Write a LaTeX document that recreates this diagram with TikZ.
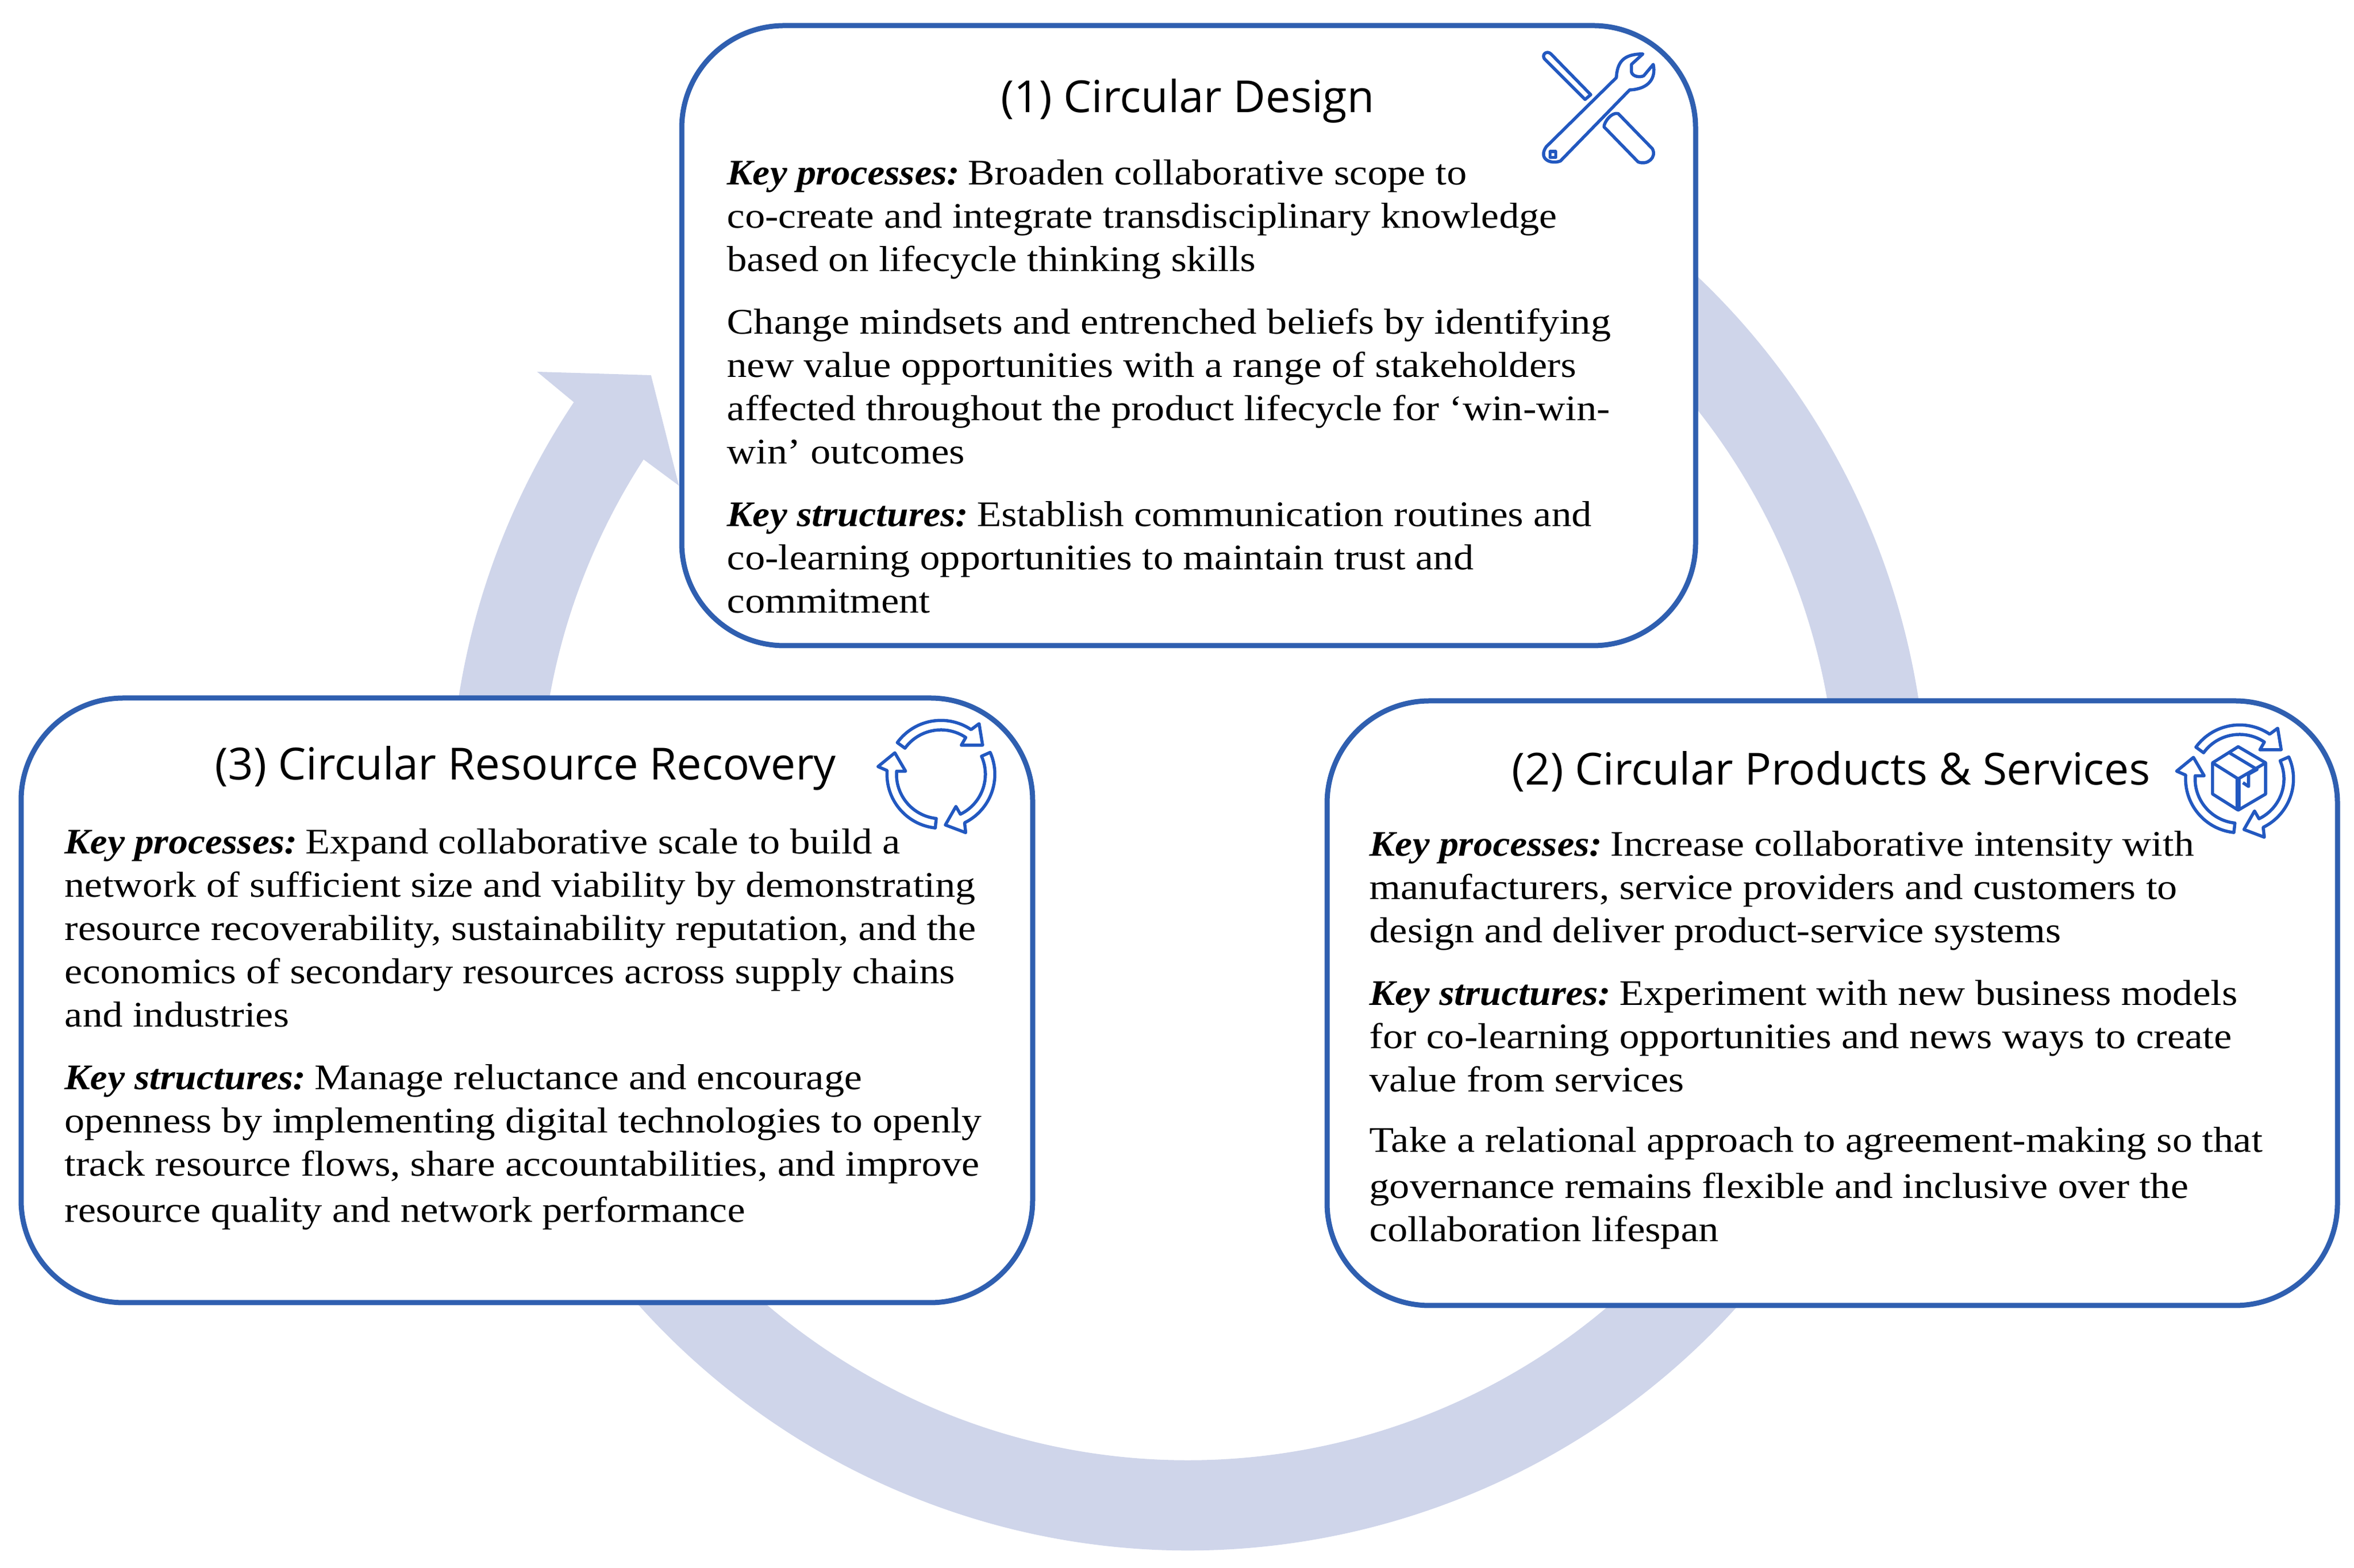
\documentclass[tikz,border=0pt]{standalone}
\usepackage{fontspec}
\setmainfont[FakeStretch=1.115]{Liberation Serif}
\newfontfamily\keyfont[FakeStretch=1.072]{Liberation Serif}
\newfontfamily\titlefont{Open Sans}
\definecolor{ringblue}{HTML}{CFD5EA}
\definecolor{edgeblue}{HTML}{2F5FB0}
\definecolor{iconblue}{HTML}{2258C0}
\tikzset{
	stagebox/.style={draw=edgeblue, line width=0.09cm, fill=white, rounded corners=1.8cm},
	stagetitle/.style={font=\titlefont\fontsize{22.1}{26}\selectfont},
	stagetext/.style={anchor=north west, inner sep=0pt, align=left, font=\fontsize{18}{21.63}\selectfont},
	iconline/.style={draw=iconblue, line width=0.055cm, line join=round}
}
\newcommand{\keyterm}[1]{{\keyfont\bfseries\itshape #1}\kern-0.09cm\relax}
\newcommand{\cyclearrows}[1]{
	\foreach \turn in {0,-120,-240} {
		\draw[iconline, shift={(#1)}, rotate=\turn] (144:0.947) arc[start angle=144, end angle=56, radius=0.947] -- (53:1.113) -- (35:0.893) -- (55:0.623) -- (56:0.78) arc[start angle=56, end angle=144, radius=0.78] -- cycle;
	}
}
\begin{document}
\begin{tikzpicture}
	\useasboundingbox (0,0) rectangle (41.33,27.54);

	\coordinate (hub) at (20.865,13.28);
	\fill[ringblue] (hub) ++(65:12.97) arc[start angle=65, end angle=-213.7, radius=12.97] -- (9.43,21.01) -- (11.43,20.95) -- (11.92,19.01) -- (11.30,19.47) arc[start angle=-212.9, end angle=65, radius=11.39] -- cycle;

	\draw (20.87,21.645) node[stagebox, minimum width=17.8cm, minimum height=10.89cm] (design) {};
	\draw (9.25,9.97) node[stagebox, minimum width=17.76cm, minimum height=10.62cm] (recovery) {};
	\draw (32.17,9.92) node[stagebox, minimum width=17.74cm, minimum height=10.62cm] (products) {};

	\draw (20.85,25.77) node[stagetitle] (designtitle) {(1) Circular Design};
	\draw (9.23,14.05) node[stagetitle] (recoverytitle) {(3) Circular Resource Recovery};
	\draw (32.15,13.99) node[stagetitle] (productstitle) {(2) Circular Products \& Services};

	\draw (12.76,24.74) node[stagetext] (designtext) {\keyterm{Key processes:} Broaden collaborative scope to\\
		co-create and integrate transdisciplinary knowledge\\
		based on lifecycle thinking skills\\[0.34cm]
		Change mindsets and entrenched beliefs by identifying\\
		new value opportunities with a range of stakeholders\\
		affected throughout the product lifecycle for ‘win-win-\\
		win’ outcomes\\[0.34cm]
		\keyterm{Key structures:} Establish communication routines and\\
		co-learning opportunities to maintain trust and\\
		commitment};
	\draw (1.13,12.99) node[stagetext] (recoverytext) {\keyterm{Key processes:} Expand collaborative scale to build a\\
		network of sufficient size and viability by demonstrating\\
		resource recoverability, sustainability reputation, and the\\
		economics of secondary resources across supply chains\\
		and industries\\[0.34cm]
		\keyterm{Key structures:} Manage reluctance and encourage\\
		openness by implementing digital technologies to openly\\
		track resource flows, share accountabilities, and improve\\[0.05cm]
		resource quality and network performance};
	\draw (24.04,12.95) node[stagetext] (productstext) {\keyterm{Key processes:} Increase collaborative intensity with\\
		manufacturers, service providers and customers to\\
		design and deliver product-service systems\\[0.34cm]
		\keyterm{Key structures:} Experiment with new business models\\
		for co-learning opportunities and news ways to create\\
		value from services\\[0.3cm]
		Take a relational approach to agreement-making so that\\[0.05cm]
		governance remains flexible and inclusive over the\\
		collaboration lifespan};

	\begin{scope}[shift={(26,27.34)}, x=0.003333cm, y=-0.003333cm]
		\draw[iconline] (345,715) -- (715,350) .. controls (720,270) and (750,225) .. (855,225) -- (795,280) -- (795,320) .. controls (800,345) and (840,350) .. (860,340) -- (910,280) .. controls (925,350) and (890,410) .. (785,415) -- (420,790) .. controls (370,810) and (300,780) .. cycle;
		\draw[iconline] (365,740) rectangle (395,772);
		\draw[iconline] (335,250) .. controls (320,225) and (350,205) .. (370,225) -- (580,440) -- (550,465) -- cycle;
		\draw[iconline] (650,610) .. controls (650,585) and (690,530) .. (725,540) -- (905,725) .. controls (930,770) and (880,815) .. (830,795) -- cycle;
	\end{scope}

	\cyclearrows{16.52,13.94}
	\cyclearrows{39.32,13.86}

	\begin{scope}[shift={(37.5,15.14)}, x=0.003333cm, y=-0.003333cm]
		\draw[iconline] (540,215) -- (685,300) -- (685,465) -- (540,550) -- (405,465) -- (405,300) -- cycle;
		\draw[iconline] (405,300) -- (540,385) -- (685,300);
		\draw[iconline, line width=0.09cm] (540,385) -- (540,550);
		\draw[iconline] (490,245) -- (640,335) -- (595,360) -- (595,425) -- (565,405);
	\end{scope}
\end{tikzpicture}
\end{document}
